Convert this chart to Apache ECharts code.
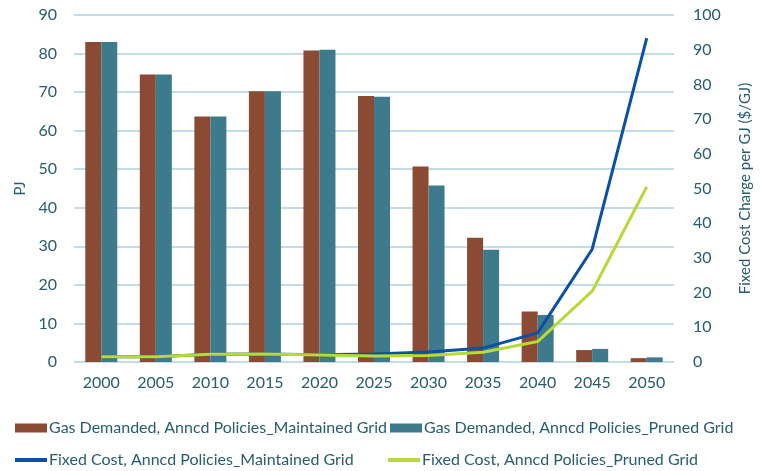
<!DOCTYPE html>
<html>
<head>
<meta charset="utf-8">
<script src="https://cdn.jsdelivr.net/npm/echarts@6/dist/echarts.min.js"></script>
<style>html,body{margin:0;padding:0;background:#fff}#c{width:761px;height:471px}</style>
</head>
<body>
<div id="c"></div>
<script>
var years = ['2000','2005','2010','2015','2020','2025','2030','2035','2040','2045','2050'];
var gasMaintained = [83.0, 74.6, 63.7, 70.2, 80.8, 69.0, 50.7, 32.2, 13.1, 3.1, 1.0];
var gasPruned     = [83.0, 74.6, 63.7, 70.2, 81.0, 68.8, 45.8, 29.1, 12.2, 3.4, 1.2];
var costMaintained = [1.5, 1.5, 2.2, 2.3, 2.1, 2.3, 2.9, 4.0, 8.4, 32.5, 93.3];
var costPruned     = [1.5, 1.5, 2.2, 2.3, 2.0, 1.7, 1.9, 2.8, 5.9, 20.4, 50.5];
var leftTicks = {min: 0, max: 90, interval: 10};
var rightTicks = {min: 0, max: 100, interval: 10};

var names = [
  'Gas Demanded, Anncd Policies_Maintained Grid',
  'Gas Demanded, Anncd Policies_Pruned Grid',
  'Fixed Cost, Anncd Policies_Maintained Grid',
  'Fixed Cost, Anncd Policies_Pruned Grid'
];
var txtColor = '#285d6d';
var font = 'Lato';
function lg(name, left, top, isLine) {
  return {
    data: [name], left: left, top: top, orient: 'horizontal',
    itemWidth: 32, itemHeight: isLine ? 4 : 9, itemGap: 0, padding: 0,
    icon: 'rect',
    textStyle: {color: txtColor, fontFamily: font, fontSize: 16, padding: [0,0,0,-3]},
    selectedMode: false
  };
}
var chart = echarts.init(document.getElementById('c'));
chart.setOption({
  animation: false,
  grid: {left: 74, right: 73, top: 15, bottom: 109},
  legend: [
    lg(names[0], 15, 420, false),
    lg(names[1], 390, 420, false),
    lg(names[2], 15, 452, true),
    lg(names[3], 388, 452, true)
  ],
  xAxis: {
    type: 'category', data: years,
    axisLine: {show: false}, axisTick: {show: false},
    axisLabel: {color: txtColor, fontFamily: font, fontSize: 16, margin: 13}
  },
  yAxis: [
    {
      type: 'value', min: leftTicks.min, max: leftTicks.max, interval: leftTicks.interval,
      name: 'PJ', nameLocation: 'middle', nameGap: 44, nameRotate: 90,
      nameTextStyle: {color: txtColor, fontFamily: font, fontSize: 15},
      axisLine: {show: false}, axisTick: {show: false},
      axisLabel: {color: txtColor, fontFamily: font, fontSize: 16, margin: 17},
      splitLine: {lineStyle: {color: '#c3dce5', width: 2}}
    },
    {
      type: 'value', min: rightTicks.min, max: rightTicks.max, interval: rightTicks.interval,
      name: 'Fixed Cost Charge per GJ ($/GJ)', nameLocation: 'middle', nameGap: 64, nameRotate: 90,
      nameTextStyle: {color: txtColor, fontFamily: font, fontSize: 15},
      axisLine: {show: false}, axisTick: {show: false},
      axisLabel: {color: txtColor, fontFamily: font, fontSize: 16, margin: 19},
      splitLine: {show: false}
    }
  ],
  series: [
    {name: names[0], type: 'bar', data: gasMaintained, barWidth: 16, barGap: '0%',
     itemStyle: {color: '#8b4a33'}},
    {name: names[1], type: 'bar', data: gasPruned, barWidth: 16,
     itemStyle: {color: '#3c7a8c'}},
    {name: names[2], type: 'line', yAxisIndex: 1, data: costMaintained, showSymbol: false, symbol: 'none',
     lineStyle: {color: '#0b4fa6', width: 3}, itemStyle: {color: '#0b4fa6'}},
    {name: names[3], type: 'line', yAxisIndex: 1, data: costPruned, showSymbol: false, symbol: 'none',
     lineStyle: {color: '#b7d93a', width: 3}, itemStyle: {color: '#b7d93a'}}
  ]
});
</script>
</body>
</html>
